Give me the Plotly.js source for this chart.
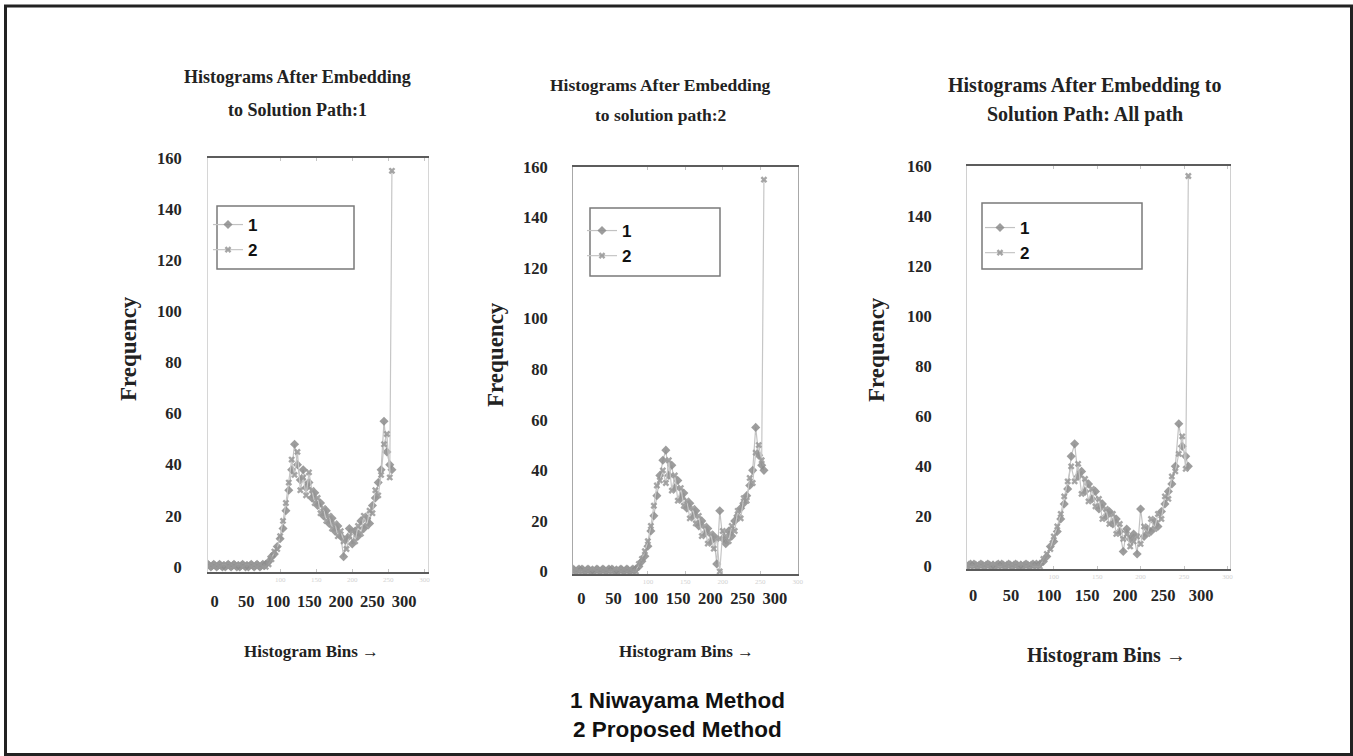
<!DOCTYPE html>
<html>
<head>
<meta charset="utf-8">
<script src="https://cdn.plot.ly/plotly-3.0.1.min.js"></script>
<style>
html,body{margin:0;padding:0;background:#fff;}
#chart{width:1353px;height:756px;}
</style>
</head>
<body>
<div id="chart"></div>
<script>
// ---------------- DATA ----------------
const bins = [0,4,8,12,16,20,24,28,32,36,40,44,48,52,56,60,64,68,72,76,80,84,88,92,96,100,104,108,112,116,120,124,128,132,136,140,144,148,152,156,160,164,168,172,176,180,184,188,192,196,200,204,208,212,216,220,224,228,232,236,240,244,248,252,255];

const yTickValues = [0,20,40,60,80,100,120,140,160];
const xTickLabels = [0,50,100,150,200,250,300];
const faintXTicks = [100,150,200,250,300];

const seriesNames = ["1","2"];
const footnotes = ["1 Niwayama Method","2 Proposed Method"];
const panelTitles = [
  ["Histograms After Embedding","to Solution Path:1"],
  ["Histograms After Embedding","to solution path:2"],
  ["Histograms After Embedding to","Solution Path: All path"]
];
const yAxisTitle = "Frequency";
const xAxisTitle = "Histogram Bins \u2192";

// Panel 1 : Solution Path 1
const path1_niwayama = [1,0,1,0,1,0,0,1,0,1,0,0,1,0,0,1,0,1,0,1,
  1,2,4,5,8,11,15,22,30,38,48,40,34,38,31,33,27,29,24,25,20,22,17,19,14,16,12,4,11,15,9,14,12,18,15,19,17,24,27,33,38,57,45,40,38];
const path1_proposed = [0,1,0,1,0,1,1,0,1,0,1,1,0,1,1,0,1,0,1,0,
  0,1,3,6,7,12,18,25,33,42,36,45,30,35,28,37,30,25,27,21,23,18,20,15,17,12,14,10,7,12,14,10,16,13,20,16,22,21,30,28,36,48,52,35,155];

// Panel 2 : Solution Path 2
const path2_niwayama = [1,0,1,1,0,1,0,0,1,0,1,0,1,1,0,0,1,0,1,0,
  1,1,2,4,6,10,16,22,30,38,44,48,38,42,33,36,29,31,25,27,22,24,18,20,15,17,12,14,3,24,13,11,16,14,20,22,25,27,30,34,40,57,46,42,40];
const path2_proposed = [0,1,0,0,1,0,1,1,0,1,0,1,0,0,1,1,0,1,0,1,
  0,0,3,5,8,12,18,26,34,36,40,35,44,32,38,28,33,26,28,21,25,19,22,14,18,11,15,9,13,0,16,14,12,18,16,24,21,29,28,37,35,47,50,44,155];

// Panel 3 : All paths
const pathAll_niwayama = [0,1,1,0,1,0,1,0,0,1,1,0,1,0,1,0,0,1,0,1,
  1,1,2,4,8,10,14,19,25,31,44,49,36,38,30,33,27,30,23,25,20,22,17,19,14,6,15,11,13,5,23,12,15,14,18,16,22,25,30,33,40,57,48,44,40];
const pathAll_proposed = [1,0,0,1,0,1,0,1,1,0,0,1,0,1,0,1,1,0,1,0,
  0,0,3,5,7,12,16,21,28,34,40,34,41,29,35,26,31,24,27,19,23,17,21,13,17,11,13,8,10,12,9,16,13,19,15,21,19,28,27,36,38,45,52,39,156];

const panelSeries = [
  [path1_niwayama, path1_proposed],
  [path2_niwayama, path2_proposed],
  [pathAll_niwayama, pathAll_proposed]
];

// ---------------- LAYOUT (pixel geometry of each panel) ----------------
const W = 1353, H = 756;
const PX = p => p / W;
const PY = p => 1 - p / H;

const panels = [
  {L:208, R:428, T:158, B:572, xr:[0,305], yr:[-2,160], lab:[-10.5,338], ystand:22, xstand:17,
   title:{x:297, y1:77, y2:110, size:18}, xt:{x:311, y:651, size:17}, fq:{x:128, y:349},
   box:[217,206,354,269], leg:[208,207], ylc:'#d6d6d6'},
  {L:573, R:798, T:167, B:574, xr:[0,300.5], yr:[-1,160], lab:[-13,336], ystand:21, xstand:12,
   title:{x:660, y1:85, y2:115, size:17.5}, xt:{x:686, y:651, size:17}, fq:{x:496, y:355},
   box:[590,208,720,276], leg:[582,213], ylc:'#a8a8a8'},
  {L:967, R:1230, T:166, B:569, xr:[0,303], yr:[-1,160], lab:[-8,338], ystand:31, xstand:14,
   title:{x:1085, y1:86, y2:115, size:20}, xt:{x:1106, y:655, size:20}, fq:{x:876, y:350},
   box:[982,203,1142,269], leg:[980,210], ylc:'#d0d0d0'}
];

const serif = "Liberation Serif, Times New Roman, serif";
const sans = "Liberation Sans, Arial, sans-serif";

const traces = [];
const layout = {
  width: W, height: H, autosize: false,
  margin: {l:0, r:0, t:0, b:0, pad:0},
  paper_bgcolor: '#ffffff', plot_bgcolor: '#ffffff',
  showlegend: true,
  annotations: [], shapes: []
};

const markerStyles = [
  {symbol:'diamond', size:7, color:'rgba(140,140,140,0.85)'},
  {symbol:'x', size:6, color:'rgba(150,150,150,0.85)'}
];
const lineStyles = [
  {color:'#c2c2c2', width:1.2},
  {color:'#c6c6c6', width:1.2}
];

panels.forEach((p, i) => {
  const n = i + 1;
  const xa = n === 1 ? 'x' : 'x' + n;
  const ya = n === 1 ? 'y' : 'y' + n;
  const legName = n === 1 ? 'legend' : 'legend' + n;
  const labAxisNum = n + 3;

  panelSeries[i].forEach((vals, s) => {
    traces.push({
      type: 'scatter', mode: 'lines+markers',
      x: bins, y: vals, name: seriesNames[s],
      xaxis: xa, yaxis: ya, legend: legName,
      marker: Object.assign({}, markerStyles[s]),
      line: lineStyles[s],
      hoverinfo: 'skip'
    });
  });

  const xKey = n === 1 ? 'xaxis' : 'xaxis' + n;
  const yKey = n === 1 ? 'yaxis' : 'yaxis' + n;

  layout[xKey] = {
    domain: [PX(p.L), PX(p.R)], anchor: ya, range: p.xr,
    showline: true, linecolor: '#5c5c5c', linewidth: 2, mirror: 'ticks',
    ticks: 'inside', ticklen: 3, tickcolor: '#c4c4c4',
    tickmode: 'array', tickvals: faintXTicks,
    tickfont: {family: serif, size: 7, color: '#d2d2d2'},
    showgrid: false, zeroline: false, fixedrange: true
  };
  layout[yKey] = {
    domain: [PY(p.B), PY(p.T)], anchor: xa, range: p.yr,
    showline: true, linecolor: p.ylc, linewidth: 1, mirror: true,
    ticks: '', tickmode: 'array', tickvals: yTickValues,
    tickfont: {family: serif, size: 16.5, color: '#252525', weight: 'bold'},
    ticklabelstandoff: p.ystand,
    showgrid: false, zeroline: false, fixedrange: true
  };
  layout['xaxis' + labAxisNum] = {
    overlaying: xa, anchor: ya, side: 'bottom', range: p.lab,
    showline: false, ticks: '', tickmode: 'array', tickvals: xTickLabels,
    tickfont: {family: serif, size: 16.5, color: '#252525', weight: 'bold'},
    ticklabelstandoff: p.xstand,
    showgrid: false, zeroline: false, fixedrange: true
  };
  traces.push({type:'scatter', x:[], y:[], xaxis:'x' + labAxisNum, yaxis: ya, showlegend:false, hoverinfo:'skip'});

  layout[legName] = {
    x: PX(p.leg[0]), y: PY(p.leg[1]), xanchor: 'left', yanchor: 'top',
    xref: 'paper', yref: 'paper',
    bgcolor: 'rgba(0,0,0,0)', borderwidth: 0,
    font: {family: sans, size: 17, color: '#111', weight: 'bold'},
    tracegroupgap: 0, itemwidth: 30
  };
  layout.shapes.push({
    type: 'rect', xref: 'paper', yref: 'paper',
    x0: PX(p.box[0]), x1: PX(p.box[2]), y0: PY(p.box[3]), y1: PY(p.box[1]),
    line: {color: '#7a7a7a', width: 1.5}, fillcolor: 'rgba(0,0,0,0)'
  });

  [panelTitles[i][0], panelTitles[i][1]].forEach((t, k) => {
    layout.annotations.push({
      text: t, xref: 'paper', yref: 'paper', showarrow: false,
      x: PX(p.title.x), y: PY(k === 0 ? p.title.y1 : p.title.y2),
      xanchor: 'center', yanchor: 'middle',
      font: {family: serif, size: p.title.size, color: '#222', weight: 'bold'}
    });
  });
  layout.annotations.push({
    text: xAxisTitle, xref: 'paper', yref: 'paper', showarrow: false,
    x: PX(p.xt.x), y: PY(p.xt.y), xanchor: 'center', yanchor: 'middle',
    font: {family: serif, size: p.xt.size, color: '#222', weight: 'bold'}
  });
  layout.annotations.push({
    text: yAxisTitle, xref: 'paper', yref: 'paper', showarrow: false,
    x: PX(p.fq.x), y: PY(p.fq.y), xanchor: 'center', yanchor: 'middle',
    textangle: -90,
    font: {family: serif, size: 23, color: '#222', weight: 'bold'}
  });
});

footnotes.forEach((t, k) => {
  layout.annotations.push({
    text: t, xref: 'paper', yref: 'paper', showarrow: false,
    x: PX(677), y: PY(k === 0 ? 700 : 729), xanchor: 'center', yanchor: 'middle',
    font: {family: sans, size: 22.5, color: '#111', weight: 'bold'}
  });
});

layout.shapes.push({
  type: 'rect', xref: 'paper', yref: 'paper',
  x0: PX(5.5), x1: PX(1351.5), y0: PY(754.5), y1: PY(6),
  line: {color: '#222', width: 3}, fillcolor: 'rgba(0,0,0,0)'
});

Plotly.newPlot('chart', traces, layout, {displayModeBar: false, staticPlot: true});
</script>
</body>
</html>
